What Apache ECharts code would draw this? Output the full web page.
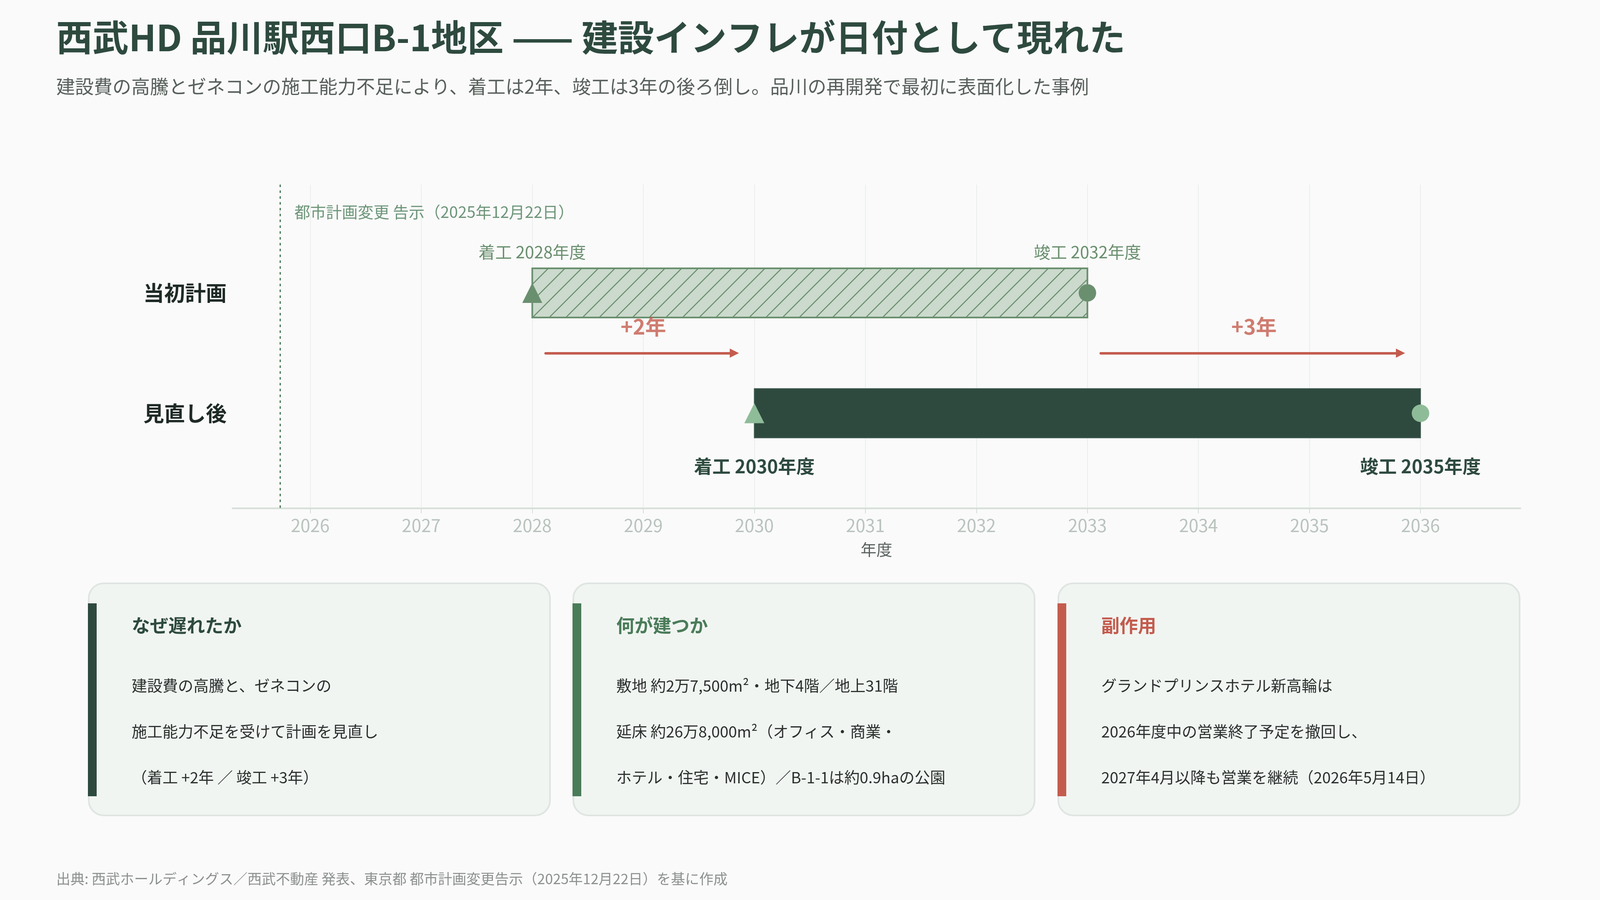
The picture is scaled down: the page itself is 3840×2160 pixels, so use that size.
<!DOCTYPE html>
<html lang="ja">
<head>
<meta charset="utf-8">
<title>西武HD 品川駅西口B-1地区</title>
<script src="https://cdn.jsdelivr.net/npm/echarts@6/dist/echarts.min.js"></script>
<style>
  html, body { margin: 0; padding: 0; background: #fafafa; }
  #chart { width: 3840px; height: 2160px; }
</style>
</head>
<body>
<div id="chart"></div>
<script>
// data
const rows = ['当初計画', '見直し後']
const startFY = [2028, 2030]
const endFY = [2032, 2035]
const yearTicks = [2026, 2027, 2028, 2029, 2030, 2031, 2032, 2033, 2034, 2035, 2036]
const announceDate = '2025-12-22'
const announceLabel = '都市計画変更 告示（2025年12月22日）'

const cardTitles = ['なぜ遅れたか', '何が建つか', '副作用']
const cardLines = [
  ['建設費の高騰と、ゼネコンの', '施工能力不足を受けて計画を見直し', '（着工 +2年 ／ 竣工 +3年）'],
  ['敷地 約2万7,500m²・地下4階／地上31階', '延床 約26万8,000m²（オフィス・商業・', 'ホテル・住宅・MICE）／B-1-1は約0.9haの公園'],
  ['グランドプリンスホテル新高輪は', '2026年度中の営業終了予定を撤回し、', '2027年4月以降も営業を継続（2026年5月14日）']
]

const FONT = '"Noto Sans CJK JP", "Noto Sans", sans-serif'
const DARK = '#2e4a3f'
const MID = '#6a8f6f'
const LIGHT = '#8fbc98'
const RED = '#c45c4e'

// fiscal year (April start) as a position on the x axis
function fiscalPos(dateStr) {
  const d = new Date(dateStr + 'T00:00:00Z')
  const fy = d.getUTCMonth() >= 3 ? d.getUTCFullYear() : d.getUTCFullYear() - 1
  const fyStart = Date.UTC(fy, 3, 1)
  return fy + (d.getTime() - fyStart) / (365 * 86400000)
}
const announceX = fiscalPos(announceDate)

// hatch pattern for the original plan bar
const hatch = document.createElement('canvas')
hatch.width = 40
hatch.height = 40
const hctx = hatch.getContext('2d')
hctx.fillStyle = '#cbdacd'
hctx.fillRect(0, 0, 40, 40)
hctx.strokeStyle = MID
hctx.lineWidth = 2.5
hctx.beginPath()
hctx.moveTo(0, 40); hctx.lineTo(40, 0)
hctx.moveTo(-10, 10); hctx.lineTo(10, -10)
hctx.moveTo(30, 50); hctx.lineTo(50, 30)
hctx.stroke()

const barStyles = [
  { fill: { image: hatch, repeat: 'repeat' }, stroke: MID, lineWidth: 4 },
  { fill: DARK, stroke: '#3f5a4f', lineWidth: 2 }
]
const markerColor = [MID, LIGHT]
const rowLabel = [
  { color: MID, fontSize: 40, fontWeight: 'normal', offset: [0, -98] },
  { color: DARK, fontSize: 44, fontWeight: 'bold', offset: [0, 127] }
]

const chart = echarts.init(document.getElementById('chart'), null, { renderer: 'canvas' })

// cards and page texts
const cardX = [213, 1376, 2540]
const cardAccent = [DARK, '#4a7c59', RED]
const graphics = [
  { type: 'text', x: 135, y: 90, style: { text: '西武HD 品川駅西口B-1地区 —— 建設インフレが日付として現れた', font: `bold 87px ${FONT}`, fill: DARK, verticalAlign: 'middle' } },
  { type: 'text', x: 135, y: 208, style: { text: '建設費の高騰とゼネコンの施工能力不足により、着工は2年、竣工は3年の後ろ倒し。品川の再開発で最初に表面化した事例', font: `45px ${FONT}`, fill: '#58605b', verticalAlign: 'middle' } },
  { type: 'text', x: 135, y: 2109, style: { text: '出典: 西武ホールディングス／西武不動産 発表、東京都 都市計画変更告示（2025年12月22日）を基に作成', font: `34px ${FONT}`, fill: '#8c918e', verticalAlign: 'middle' } }
]
cardTitles.forEach((t, i) => {
  const x = cardX[i]
  graphics.push({ type: 'rect', shape: { x: x, y: 1400, width: 1107, height: 557, r: 36 }, style: { fill: '#f1f5f2', stroke: '#dfe5e1', lineWidth: 4 } })
  graphics.push({ type: 'rect', shape: { x: x - 2, y: 1448, width: 21, height: 463 }, style: { fill: cardAccent[i] } })
  graphics.push({ type: 'text', x: x + 103, y: 1501, style: { text: t, font: `bold 44px ${FONT}`, fill: cardAccent[i], verticalAlign: 'middle' } })
  cardLines[i].forEach((line, j) => {
    graphics.push({ type: 'text', x: x + 103, y: 1646 + j * 110, style: { text: line, font: `37px ${FONT}`, fill: '#2b2f2d', verticalAlign: 'middle' } })
  })
})

const option = {
  backgroundColor: '#fafafa',
  animation: false,
  textStyle: { fontFamily: FONT },
  grid: { left: 558, right: 191, top: 443, bottom: 940 },
  xAxis: {
    type: 'value',
    min: 2025.3,
    max: 2036.9,
    name: '年度',
    nameLocation: 'middle',
    nameGap: 80,
    nameTextStyle: { fontSize: 38, color: '#5a625e', fontFamily: FONT },
    axisLine: { show: true, onZero: false, lineStyle: { color: '#d7dfda', width: 4 } },
    axisTick: { show: true, customValues: yearTicks, length: 12, lineStyle: { color: '#d7dfda', width: 2 } },
    axisLabel: { customValues: yearTicks, formatter: v => String(v), fontSize: 42, color: '#b9c3bd', margin: 20, fontFamily: FONT },
    splitLine: { show: true, lineStyle: { color: '#ebeeec', width: 2 } }
  },
  yAxis: {
    type: 'value',
    inverse: true,
    min: -0.9,
    max: 1.79,
    axisLine: { show: false },
    axisTick: { show: false },
    splitLine: { show: false },
    axisLabel: {
      customValues: rows.map((r, i) => i),
      formatter: v => rows[v] || '',
      fontSize: 50,
      fontWeight: 'bold',
      color: '#1f2a25',
      margin: 14,
      fontFamily: FONT
    }
  },
  series: [
    {
      type: 'custom',
      name: 'schedule',
      z: 2,
      data: rows.map((r, i) => [i, startFY[i], endFY[i] + 1]),
      renderItem: function (params, api) {
        const row = api.value(0)
        const a = api.coord([api.value(1), row])
        const b = api.coord([api.value(2), row])
        const h = 118
        return {
          type: 'rect',
          shape: { x: a[0], y: a[1] - h / 2, width: b[0] - a[0], height: h },
          style: barStyles[params.dataIndex]
        }
      }
    },
    {
      type: 'lines',
      name: 'delay',
      coordinateSystem: 'cartesian2d',
      z: 3,
      symbol: ['none', 'triangle'],
      symbolSize: 22,
      lineStyle: { color: RED, width: 6, opacity: 1, cap: 'round' },
      data: [
        { coords: [[startFY[0] + 0.12, 0.5], [startFY[1] - 0.18, 0.5]] },
        { coords: [[endFY[0] + 1.12, 0.5], [endFY[1] + 1 - 0.18, 0.5]] }
      ]
    },
    {
      type: 'scatter',
      name: 'delayLabel',
      z: 4,
      symbolSize: 0,
      data: [
        [(startFY[0] + startFY[1]) / 2, 0.28, `+${startFY[1] - startFY[0]}年`],
        [(endFY[0] + endFY[1]) / 2 + 1, 0.28, `+${endFY[1] - endFY[0]}年`]
      ],
      label: { show: true, position: 'inside', formatter: p => p.value[2], color: RED, fontSize: 50, fontWeight: 'bold', fontFamily: FONT },
      markLine: {
        silent: true,
        symbol: 'none',
        label: { show: false },
        lineStyle: { color: '#4a7c59', width: 3, type: [6, 8] },
        data: [{ xAxis: announceX }]
      }
    },
    {
      type: 'scatter',
      name: 'announce',
      z: 4,
      symbolSize: 0,
      data: [[announceX, -0.672]],
      label: { show: true, position: 'right', distance: 34, formatter: announceLabel, color: '#4a7c59', fontSize: 38, fontFamily: FONT }
    },
    {
      type: 'scatter',
      name: '着工',
      z: 5,
      symbol: 'triangle',
      symbolSize: 48,
      data: rows.map((r, i) => ({
        value: [startFY[i], i],
        itemStyle: { color: markerColor[i], opacity: 1 },
        label: Object.assign({ show: true, position: 'inside', formatter: `着工 ${startFY[i]}年度`, fontFamily: FONT }, rowLabel[i])
      }))
    },
    {
      type: 'scatter',
      name: '竣工',
      z: 5,
      symbol: 'circle',
      symbolSize: 42,
      data: rows.map((r, i) => ({
        value: [endFY[i] + 1, i],
        itemStyle: { color: markerColor[i], opacity: 1 },
        label: Object.assign({ show: true, position: 'inside', formatter: `竣工 ${endFY[i]}年度`, fontFamily: FONT }, rowLabel[i])
      }))
    }
  ],
  graphic: graphics
}

chart.setOption(option)
window.addEventListener('resize', () => chart.resize())
</script>
</body>
</html>
